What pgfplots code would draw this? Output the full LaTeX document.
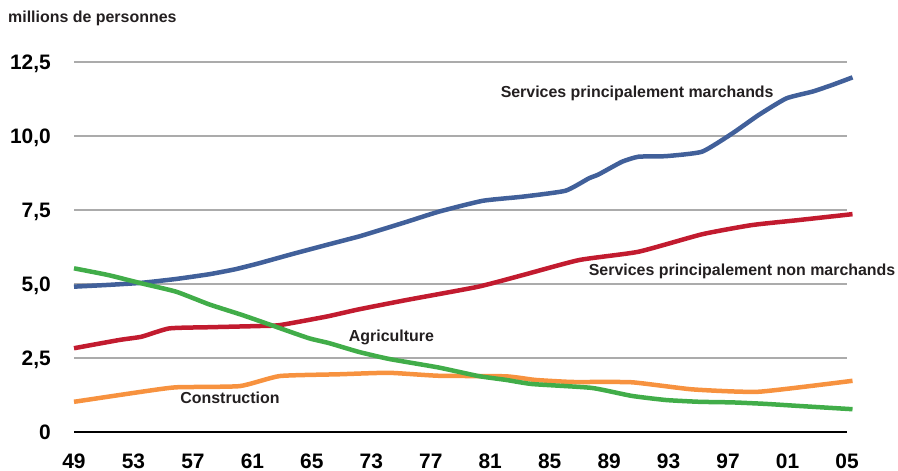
\documentclass[border=0pt]{standalone}
\usepackage{pgfplots}
\pgfplotsset{compat=1.18}
\usepackage{fontspec}
\setmainfont{Liberation Sans}
\definecolor{cblue}{HTML}{41609A}
\definecolor{cred}{HTML}{C21B2F}
\definecolor{cgreen}{HTML}{41AD49}
\definecolor{corange}{HTML}{F7923F}
\definecolor{ctext}{HTML}{231F20}
\definecolor{cgrid}{HTML}{ABABAB}
\begin{document}
\begin{tikzpicture}
\begin{axis}[
  at={(0,0)}, anchor=south west,
  scale only axis, width=773bp, height=370bp,
  xmin=1949, xmax=2005, ymin=0, ymax=12.5,
  clip=false,
  axis x line=bottom, axis y line=left,
  x axis line style={black, line width=1.5bp, -},
  y axis line style={draw=none},
  xtick={1949,1953.3077,1957.6154,1961.9231,1966.2308,1970.5385,1974.8462,1979.1538,1983.4615,1987.7692,1992.0769,1996.3846,2000.6923,2005},
  xticklabels={49,53,57,61,65,73,77,81,85,89,93,97,01,05},
  ytick={0,2.5,5,7.5,10,12.5},
  yticklabels={0,{2,5},{5,0},{7,5},{10,0},{12,5}},
  major tick length=0pt,
  ymajorgrids, grid style={cgrid, line width=1.3bp},
  xticklabel style={font=\bfseries\fontsize{21}{24}\selectfont, anchor=base, yshift=-36bp, inner sep=0pt},
  yticklabel style={font=\bfseries\fontsize{21}{24}\selectfont, anchor=base east, inner sep=0pt, xshift=-23bp, yshift=-7.5bp},
  every axis plot/.append style={line width=4.5bp, line join=round, smooth, tension=0.3},
]
\addplot[cblue] coordinates {
(1949.0,4.91) (1951.5,4.97) (1953.9,5.04) (1956.4,5.17) (1958.8,5.33) (1960.7,5.50)
(1962.4,5.70) (1964.8,6.01) (1967.3,6.32) (1969.6,6.60) (1970.6,6.74) (1973.1,7.10)
(1975.4,7.44) (1978.6,7.81) (1981.5,7.95) (1984.6,8.15) (1986.3,8.57) (1987.0,8.70)
(1988.7,9.13) (1989.9,9.30) (1991.9,9.32) (1994.5,9.47) (1996.7,10.09) (1998.6,10.71)
(2000.6,11.27) (2002.5,11.50) (2003.9,11.72) (2005.4,11.98)
};
\addplot[cred] coordinates {
(1949.0,2.83) (1952.3,3.11) (1953.9,3.22) (1955.9,3.50) (1958.8,3.54) (1962.4,3.58)
(1963.9,3.61) (1967.3,3.90) (1969.6,4.14) (1973.1,4.46) (1978.3,4.91) (1981.5,5.30)
(1985.6,5.81) (1989.9,6.09) (1994.5,6.68) (1998.1,6.99) (2001.5,7.16) (2005.4,7.36)
};
\addplot[corange] coordinates {
(1949.0,1.02) (1953.9,1.36) (1956.4,1.51) (1961.0,1.55) (1963.9,1.89) (1968.2,1.95)
(1971.8,2.00) (1975.4,1.90) (1980.3,1.88) (1982.4,1.76) (1985.1,1.69) (1989.4,1.68)
(1993.8,1.44) (1998.6,1.36) (2005.4,1.73)
};
\addplot[cgreen] coordinates {
(1949.0,5.53) (1951.5,5.30) (1953.9,5.02) (1956.4,4.74) (1958.8,4.31) (1961.2,3.95)
(1963.6,3.56) (1966.0,3.17) (1967.5,3.00) (1969.6,2.71) (1971.8,2.47) (1975.4,2.18)
(1978.3,1.89) (1980.3,1.76) (1982.2,1.62) (1986.5,1.49) (1989.4,1.22) (1991.9,1.08)
(1994.3,1.02) (1996.7,1.00) (1999.1,0.95) (2001.5,0.88) (2005.4,0.77)
};
\begin{scope}[every node/.style={font=\bfseries\fontsize{16}{18}\selectfont, text=ctext, inner sep=0pt}]
\node at (axis cs:1989.8,11.45) {Services principalement marchands};
\node at (axis cs:1997.4,5.41) {Services principalement non marchands};
\node at (axis cs:1972.0,3.18) {Agriculture};
\node at (axis cs:1960.3,1.15) {Construction};
\end{scope}
\end{axis}
\node[anchor=base west, inner sep=0pt, font=\bfseries\fontsize{16}{18}\selectfont, text=ctext] at (-66bp,409bp) {millions de personnes};
\pgfresetboundingbox
\path[use as bounding box] (-74bp,-39bp) rectangle (824bp,432bp);
\end{tikzpicture}
\end{document}
